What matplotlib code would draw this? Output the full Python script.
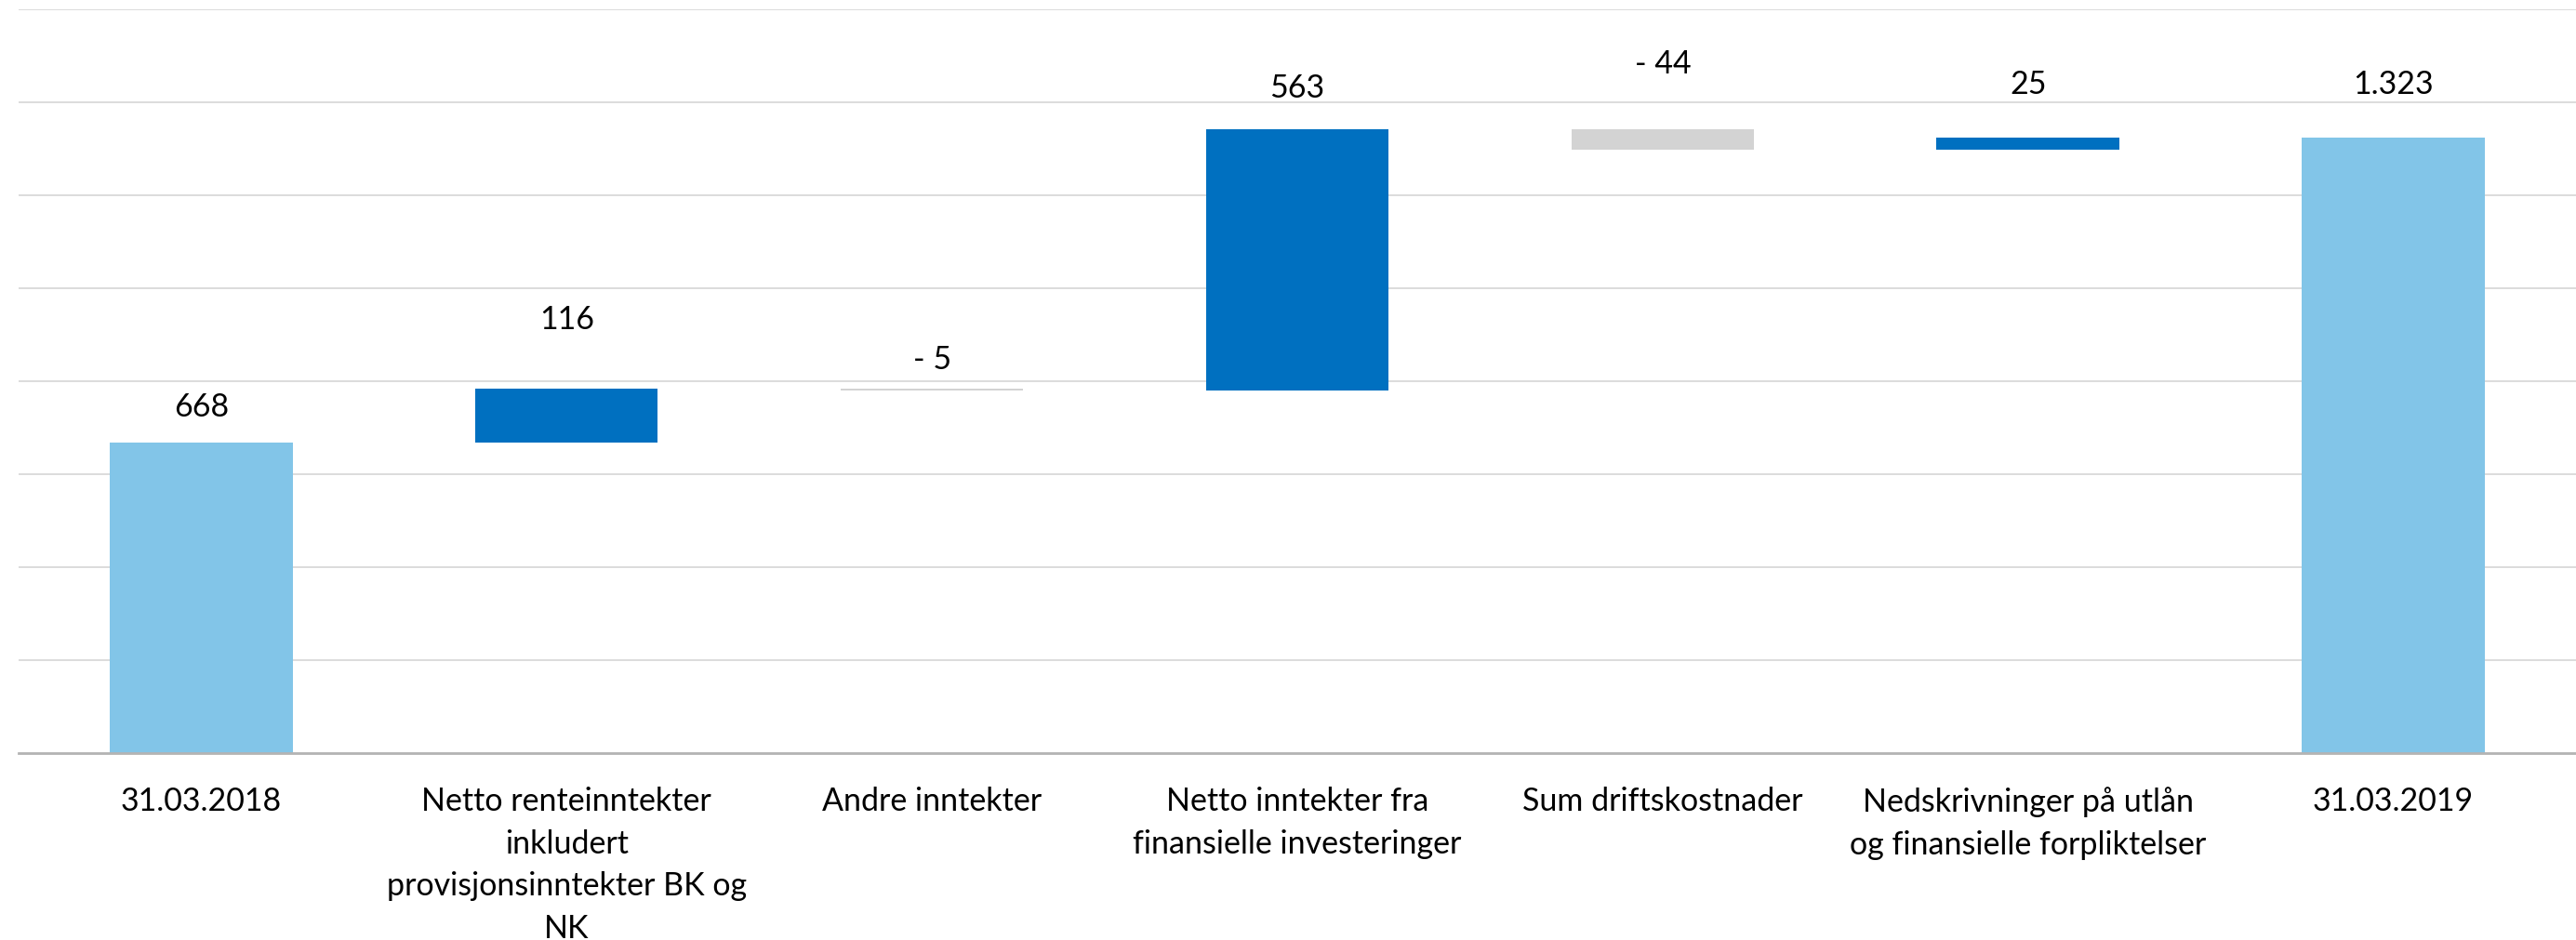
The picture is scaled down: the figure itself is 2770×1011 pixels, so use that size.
import matplotlib.pyplot as plt
import numpy as np

categories = [
    "31.03.2018",
    "Netto renteinntekter\ninkludert\nprovisjonsinntekter BK og\nNK",
    "Andre inntekter",
    "Netto inntekter fra\nfinansielle investeringer",
    "Sum driftskostnader",
    "Nedskrivninger på utlån\nog finansielle forpliktelser",
    "31.03.2019",
]
values = [668, 116, -5, 563, -44, 25, 1323]
is_total = [True, False, False, False, False, False, True]

# vertical offset of each value label above its bar, in points
label_dy = [28, 54, 23, 32, 51, 42, 42]

TOTAL = "#82C5E8"
UP = "#0070C0"
DOWN = "#D3D3D3"


def fmt(v):
    s = f"{abs(v):,}".replace(",", ".")
    return f"- {s}" if v < 0 else s


plt.rcParams["font.family"] = ["Lato", "DejaVu Sans"]

fig = plt.figure(figsize=(27.7, 10.12), dpi=100)
ax = fig.add_axes([0.0072, 0.1986, 0.9928, 0.7909])

x = np.arange(len(categories))
running = 0
for i, (v, tot) in enumerate(zip(values, is_total)):
    if tot:
        bottom, height, col = 0, v, TOTAL
        running = v
    else:
        bottom = running if v >= 0 else running + v
        height = abs(v)
        col = UP if v >= 0 else DOWN
        running += v
    ax.bar(x[i], height, bottom=bottom, width=0.5, color=col, zorder=3)
    ax.annotate(
        fmt(v),
        (x[i], bottom + height),
        xytext=(0, label_dy[i]),
        textcoords="offset points",
        ha="center",
        va="center",
        fontsize=24.5,
    )

ax.set_xlim(-0.5, len(categories) - 0.5)
ax.set_ylim(0, 1600)
ax.set_yticks(np.arange(0, 1601, 200))
ax.yaxis.grid(True, color="#D9D9D9", linewidth=1.3, zorder=0)
ax.tick_params(axis="y", left=False, labelleft=False)
ax.tick_params(axis="x", bottom=False, pad=22)
ax.set_xticks(x)
ax.set_xticklabels(categories, fontsize=24.5, va="top", linespacing=1.52)

for side in ["top", "right", "left"]:
    ax.spines[side].set_visible(False)
ax.spines["bottom"].set_color("#B4B4B4")
ax.spines["bottom"].set_linewidth(2)
ax.spines["bottom"].set_zorder(4)

fig.savefig("out.png", dpi=100)
